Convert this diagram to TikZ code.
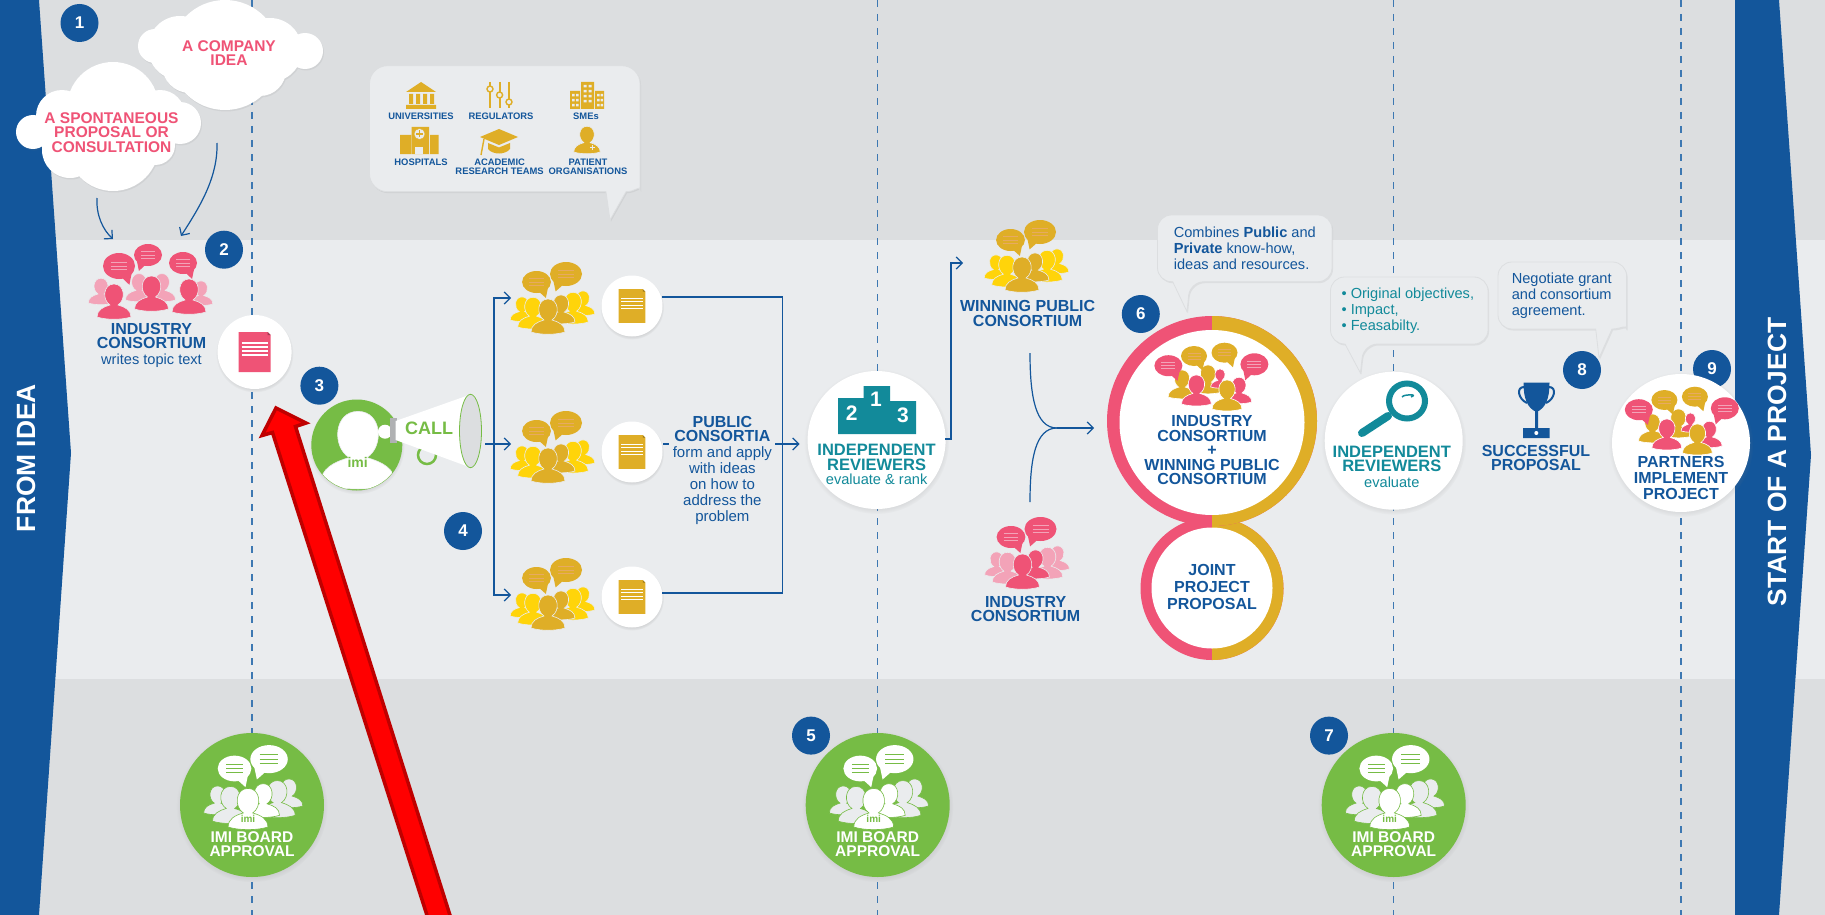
\documentclass[tikz,border=0pt]{standalone}
\usepackage{fontspec}
\setmainfont{Liberation Sans}
\usetikzlibrary{positioning,arrows.meta,shadows}
\definecolor{imiblue}{HTML}{13569B}
\definecolor{imipink}{HTML}{EF5376}
\definecolor{imipale}{HTML}{F3A3B8}
\definecolor{imigold}{HTML}{DFAE27}
\definecolor{imiyellow}{HTML}{FFD40A}
\definecolor{imiteal}{HTML}{128A9A}
\definecolor{imigreen}{HTML}{76BC45}
\definecolor{panel}{HTML}{EAECEE}
\definecolor{bandgrey}{HTML}{DCDEE0}
\definecolor{lanedash}{HTML}{3D78B2}
\colorlet{gapcol}{panel}

\newcommand{\person}[4]{\filldraw[fill=#4,draw=gapcol,line width=.6pt,shift={(#1,#2)},scale=#3]
    (-17,0) .. controls (-17,-7) and (-11,-10) .. (-4,-12) .. controls (-12,-17) and (-11,-33) .. (0,-33)
    .. controls (11,-33) and (12,-17) .. (4,-12) .. controls (11,-10) and (17,-7) .. (17,0)
    .. controls (8,3) and (-8,3) .. (-17,0) -- cycle;}
\newcommand{\bubble}[7]{\begin{scope}[shift={(#1,#2)},xscale=#3,yscale=#4]
    \fill[#6] (0,0) circle[radius=1];
    \fill[#6] (#5*.1,.8) -- (#5*.65,1.45) -- (#5*.8,.5) -- cycle;
    \draw[#7,line width=.9pt] (-.5,-.3) -- (.5,-.3) (-.5,0) -- (.5,0) (-.5,.3) -- (.5,.3);
    \end{scope}}
\newcommand{\crowd}[8]{\begin{scope}[shift={(#1,#2)},scale=#3]
    \colorlet{gapcol}{#8}
    \person{-26}{-12}{.7}{#5}
    \person{35}{-18}{.7}{#5}
    \person{25}{-10}{.9}{#5}
    \person{-15}{-5}{.9}{#5}
    \person{13}{-10}{.82}{#4}
    \person{0}{0}{1}{#4}
    \bubble{-11.5}{-50}{14.4}{11}{1}{#6}{#7}
    \bubble{18}{-58}{16}{12}{-1}{#6}{#7}
    \end{scope}}
\newcommand{\mixcrowd}[3]{\begin{scope}[shift={(#1,#2)}]
    \colorlet{gapcol}{#3}
    \person{-30}{-7}{.82}{imigold}
    \person{-4}{-12}{.82}{imigold}
    \person{8}{-17}{.55}{imipink}
    \person{27}{-2}{.75}{imipink}
    \person{-15.6}{0}{.88}{imipink}
    \person{15}{5}{.88}{imigold}
    \bubble{-43.6}{-38.3}{14}{10.5}{1}{imipink}{imipale}
    \bubble{-18}{-48}{13}{10}{1}{imigold}{imipale!40!imigold}
    \bubble{12.5}{-51.3}{13}{10}{1}{imigold}{imipale!40!imigold}
    \bubble{42.4}{-39.7}{14}{11}{-1}{imipink}{imipale}
    \end{scope}}
\newcommand{\docicon}[4]{\begin{scope}[shift={(#1,#2)},scale=#3]
    \fill[#4] (-16,-20) -- (13,-20) -- (16,-17) -- (16,20) -- (-16,20) -- cycle;
    \fill[#4!70!black] (13,-20) -- (16,-17) -- (13,-17) -- cycle;
    \draw[white,line width=1.1pt] (-13,-9) -- (13,-9) (-13,-5) -- (13,-5) (-13,-1) -- (13,-1) (-13,3) -- (13,3);
    \end{scope}}
\newcommand{\halfring}[3]{\fill[imipink] (#1,#2) circle[radius=#3];
    \begin{scope}
    \clip (#1,0) rectangle (1825,915);
    \fill[imigold] (#1,#2) circle[radius=#3];
    \end{scope}}
\newcommand{\board}[2]{\begin{scope}[shift={(#2,805)}]
    \node[boardcircle] (#1) at (0,0) {};
    \crowd{-4}{22}{1.17}{white}{panel}{white}{imigreen}{imigreen}
    \node[imitag] (#1tag) at (-4,14) {imi};
    \node[boardcaps] (#1text) at (0,39) {IMI BOARD\\APPROVAL};
    \end{scope}}

\begin{document}
\begin{tikzpicture}
    [x=1pt,y=-1pt,
    flow/.style={draw=imiblue,line width=1.2pt,-{Straight Barb[length=6pt,width=12pt]}},
    link/.style={draw=imiblue,line width=1.2pt},
    lane/.style={draw=lanedash,line width=1.4pt,dash pattern=on 7pt off 7pt},
    softshadow/.style={circular drop shadow={shadow xshift=0pt,shadow yshift=-1.5pt,shadow scale=1.05,opacity=.3}},
    whitecircle/.style={circle,fill=white,inner sep=0pt,softshadow},
    boardcircle/.style={circle,fill=imigreen,minimum size=144pt,inner sep=0pt,softshadow},
    badge/.style={circle,fill=imiblue,text=white,minimum size=38pt,inner sep=0pt,font=\fontsize{17}{17}\selectfont\bfseries},
    capsblue/.style={font=\fontsize{16}{14.5}\selectfont\bfseries,text=imiblue,align=center,inner sep=0pt},
    capsteal/.style={font=\fontsize{16.5}{14.5}\selectfont\bfseries,text=imiteal,align=center,inner sep=0pt},
    capspink/.style={font=\fontsize{15.5}{14.6}\selectfont\bfseries,text=imipink,align=center,inner sep=0pt},
    boardcaps/.style={font=\fontsize{15.5}{14}\selectfont\bfseries,text=white,align=center,inner sep=0pt},
    plainblue/.style={font=\fontsize{14.6}{16}\selectfont,text=imiblue,align=left,inner sep=0pt},
    plainteal/.style={font=\fontsize{14.6}{16}\selectfont,text=imiteal,align=left,inner sep=0pt},
    iconcaps/.style={font=\fontsize{9.4}{9}\selectfont\bfseries,text=imiblue,align=center,inner sep=0pt},
    sidecaps/.style={font=\fontsize{26.4}{26}\selectfont\bfseries,text=white,inner sep=0pt,rotate=90},
    imitag/.style={font=\fontsize{10}{10}\selectfont\bfseries,text=imigreen,inner sep=0pt},
    podium/.style={font=\fontsize{21}{21}\selectfont\bfseries,text=white,inner sep=0pt},
    cloudshape/.style={fill=white,drop shadow={opacity=.12,shadow xshift=1pt,shadow yshift=-1.5pt}},
    callbox/.style={fill=panel,draw=bandgrey,line width=.8pt,drop shadow={opacity=.12,shadow xshift=1pt,shadow yshift=-1.5pt}},
    icon/.style={fill=imigold}]
    \useasboundingbox (0,0) rectangle (1825,915);
    \clip (0,0) rectangle (1825,915);

    \fill[bandgrey] (0,0) rectangle (1825,915);
    \fill[panel] (0,240) rectangle (1825,679);
    \fill[imiblue] (0,0) -- (39,0) -- (71,453) -- (39,915) -- (0,915) -- cycle;
    \fill[imiblue] (1735,0) -- (1779,0) -- (1811,455) -- (1779,915) -- (1735,915) -- cycle;
    \node[sidecaps] (fromidea) at (26,458) {FROM IDEA};
    \node[sidecaps] (startproject) at (1777,462) {START OF A PROJECT};

    \coordinate (laneA) at (252,0);
    \coordinate (laneB) at (877.5,0);
    \coordinate (laneC) at (1393.7,0);
    \coordinate (laneD) at (1681,0);
    \draw[lane] (laneA) -- ++(0,915);
    \draw[lane] (laneB) -- ++(0,915);
    \draw[lane] (laneC) -- ++(0,915);
    \draw[lane] (laneD) -- ++(0,915);

    \path[cloudshape] (225,55) circle[radius=55] (180,48) circle[radius=32] (270,50) circle[radius=32]
      (190,65) circle[radius=28] (260,70) circle[radius=26] (155,46) circle[radius=17] (305,51) circle[radius=18];
    \path[cloudshape] (113,108) circle[radius=46] (113,145) circle[radius=46] (33,132) circle[radius=17]
      (180,123) circle[radius=21] (62,116) circle[radius=26] (70,150) circle[radius=28]
      (155,145) circle[radius=20] (160,115) circle[radius=25];
    \node[capspink] (companyidea) at (229,53) {A COMPANY\\IDEA};
    \node[capspink] (spontaneous) at (111.5,132.6) {A SPONTANEOUS\\PROPOSAL OR\\CONSULTATION};
    \node[badge] (stepone) at (79.5,23) {1};

    \path[callbox] (606,191.7) [rounded corners=18pt] -- (369.5,191.7) -- (369.5,65.7) -- (640,65.7) -- (640,172) [sharp corners] .. controls (640,185) and (635,191.7) .. (626,191.7) -- (610,220) -- cycle;
    \fill[icon] (406,92) -- (421,82) -- (436,92) -- cycle (409,94) rectangle (413,104) (416,94) rectangle (420,104)
      (423,94) rectangle (427,104) (430,94) rectangle (434,104) (406,105) rectangle (436,109);
    \node[iconcaps] (universities) at (421,116) {UNIVERSITIES};
    \draw[imigold,line width=1.8pt] (490,82) -- (490,108) (499.6,82) -- (499.6,108) (509,82) -- (509,108);
    \filldraw[fill=panel,draw=imigold,line width=1.4pt] (490,89) circle[radius=3] (499.6,95) circle[radius=3] (509,102) circle[radius=3];
    \node[iconcaps] (regulators) at (501,116) {REGULATORS};
    \fill[icon] (581,82) rectangle (594,109) (570,91) rectangle (580,109) (595,91) rectangle (604,109);
    \foreach \rowy in {85,90,95,100}
      \fill[panel] (583.5,\rowy) rectangle +(3,2.5) (588.5,\rowy) rectangle +(3,2.5);
    \foreach \rowy in {94,99,104}
      \fill[panel] (572,\rowy) rectangle +(2.5,2.5) (576,\rowy) rectangle +(2.5,2.5) (597,\rowy) rectangle +(2.5,2.5) (600.5,\rowy) rectangle +(2.5,2.5);
    \node[iconcaps] (smes) at (586,116) {SMEs};
    \fill[icon] (411.6,127) rectangle (429,154) (400,135) rectangle (411,154) (430,135) rectangle (438.5,154);
    \fill[panel] (415,147) rectangle (423,154);
    \filldraw[fill=panel,draw=imigold] (419.5,134) circle[radius=5.5];
    \draw[imigold,line width=1.4pt] (416,134) -- (423,134) (419.5,130.5) -- (419.5,137.5);
    \node[iconcaps] (hospitals) at (421,162) {HOSPITALS};
    \fill[icon] (480,137) -- (499,129) -- (518,137) -- (499,145) -- cycle;
    \fill[icon] (488,143) -- (499,147.5) -- (510,143) -- (510,149) .. controls (505,155) and (493,155) .. (488,149) -- cycle;
    \draw[imigold,line width=1.4pt] (484,139) -- (481,155);
    \node[iconcaps] (academic) at (499.6,167) {ACADEMIC\\RESEARCH TEAMS};
    \colorlet{gapcol}{panel}
    \person{587}{152}{.78}{imigold}
    \draw[panel,line width=1pt] (590,147.5) -- (595,147.5) (592.5,145) -- (592.5,150);
    \node[iconcaps] (patient) at (588,166.5) {PATIENT\\ORGANISATIONS};

    \coordinate (ideastart) at (217,143);
    \coordinate (proposalstart) at (97,198);
    \coordinate (consortleft) at (113,239);
    \coordinate (consortright) at (181,236);
    \draw[flow] (proposalstart) .. controls +(-1,17) and +(-10,-9) .. (consortleft);
    \draw[flow] (ideastart) .. controls +(1,35) and +(18,-28) .. (consortright);

    \person{101}{303}{.75}{imipale}
    \person{201}{304}{.7}{imipale}
    \person{139}{300}{.8}{imipale}
    \person{162}{300}{.8}{imipale}
    \person{114}{317}{1}{imipink}
    \person{151.5}{309}{1}{imipink}
    \person{189}{312}{1}{imipink}
    \bubble{119}{266}{16}{13}{1}{imipink}{imipale}
    \bubble{148}{255}{14}{11}{-1}{imipink}{imipale}
    \bubble{183}{263}{14}{11}{1}{imipink}{imipale}
    \node[badge] (steptwo) at (224,249.7) {2};
    \node[capsblue] (industrytop) at (151.5,336) {INDUSTRY\\CONSORTIUM};
    \node[plainblue,below=5pt of industrytop] (writes) {writes topic text};
    \node[whitecircle,minimum size=74pt] (topicdoc) at (254.6,352) {};
    \docicon{254.6}{352}{1}{imipink}

    \node[whitecircle,fill=imigreen,minimum size=91pt] (callcircle) at (356.8,445) {};
    \begin{scope}
      \clip (356.8,445) circle[radius=45];
      \person{358}{484}{2.2}{white}
    \end{scope}
    \node[imitag,font=\fontsize{14}{14}\selectfont\bfseries] (callimi) at (357.7,462.7) {imi};
    \draw[imigreen,line width=2.5pt] (427,455) circle[radius=9];
    \fill[white] (385,431.7) circle[radius=7];
    \fill[bandgrey!80!black] (390,418) rectangle (397,443);
    \fill[white] (395.6,421) -- (470.5,394.5) -- (470.5,467.5) -- (395.6,440) -- cycle;
    \filldraw[fill=bandgrey,draw=imigreen,line width=.8pt] (470.5,431) ellipse[x radius=11,y radius=36.7];
    \node[font=\fontsize{18}{18}\selectfont\bfseries,text=imigreen,inner sep=0pt] (callword) at (429,428) {CALL};
    \node[badge] (stepthree) at (319.4,385.7) {3};
    \node[badge] (stepfour) at (463,531) {4};

    \coordinate (calltip) at (485,444);
    \coordinate (trunk) at (494,444);
    \coordinate (crowdA) at (511,298);
    \coordinate (crowdB) at (511,444);
    \coordinate (crowdC) at (511,595);
    \draw[flow] (calltip) -- (crowdB);
    \draw[flow] (trunk) |- (crowdA);
    \draw[flow] (trunk) |- (crowdC);

    \crowd{548}{332}{1}{imigold}{imiyellow}{imigold}{imipale!40!imigold}{panel}
    \crowd{548}{481}{1}{imigold}{imiyellow}{imigold}{imipale!40!imigold}{panel}
    \crowd{548}{628}{1}{imigold}{imiyellow}{imigold}{imipale!40!imigold}{panel}
    \node[whitecircle,minimum size=61pt] (docA) at (632,306) {};
    \node[whitecircle,minimum size=61pt] (docB) at (632,452) {};
    \node[whitecircle,minimum size=61pt] (docC) at (632,597) {};
    \docicon{632}{306}{.84}{imigold}
    \docicon{632}{452}{.84}{imigold}
    \docicon{632}{597}{.84}{imigold}

    \coordinate (outA) at (662,297);
    \coordinate (outB) at (663,444);
    \coordinate (outC) at (662,593);
    \coordinate (spine) at (782.5,444);
    \coordinate (inreview) at (799.5,444);
    \draw[link] (outA) -| (spine);
    \draw[link] (outC) -| (spine);
    \draw[flow] (outB) -- (inreview);
    \node[capsblue,fill=panel,inner xsep=5pt,inner ysep=4pt] (publictitle) at (722.4,429) {PUBLIC\\CONSORTIA};
    \node[plainblue,align=center,font=\fontsize{15}{16}\selectfont,fill=panel,inner xsep=5pt,below=0pt of publictitle] (publictext) {form and apply\\with ideas\\on how to\\address the\\problem};

    \node[whitecircle,minimum size=138pt] (reviewA) at (876.6,440) {};
    \fill[imiteal] (838,434) -- (838,398) -- (863.5,398) -- (863.5,386) -- (890,386) -- (890,401) -- (916,401) -- (916,434) -- cycle;
    \node[podium] (second) at (851.6,412.7) {2};
    \node[podium] (first) at (876,399) {1};
    \node[podium] (third) at (903,415.7) {3};
    \node[capsteal] (reviewAtitle) at (876.6,457.5) {INDEPENDENT\\REVIEWERS};
    \node[plainteal,below=3pt of reviewAtitle] (reviewAtext) {evaluate \& rank};

    \coordinate (reviewout) at (945,439);
    \coordinate (towinner) at (963,263);
    \draw[flow] (reviewout) -- ++(6,0) |- (towinner);

    \crowd{1022}{290}{1}{imigold}{imiyellow}{imigold}{imipale!40!imigold}{panel}
    \node[capsblue] (winning) at (1027.6,313.5) {WINNING PUBLIC\\CONSORTIUM};
    \crowd{1022.5}{587}{1}{imipink}{imipale}{imipink}{imipale}{panel}
    \node[capsblue] (industrylow) at (1025.6,609) {INDUSTRY\\CONSORTIUM};

    \coordinate (mergetop) at (1030,353);
    \coordinate (mergelow) at (1030,502);
    \coordinate (mergemid) at (1057,428);
    \coordinate (toproposal) at (1094,428);
    \draw[link] (mergetop) .. controls +(0,42) and +(-22,0) .. (mergemid);
    \draw[link] (mergelow) .. controls +(0,-42) and +(-22,0) .. (mergemid);
    \draw[flow] (mergemid) -- (toproposal);

    \halfring{1212}{588.5}{71.5}
    \halfring{1212}{421}{105}
    \node[circle,fill=white,minimum size=121pt,inner sep=0pt] (jointcircle) at (1212,588) {};
    \node[circle,fill=white,minimum size=185pt,inner sep=0pt] (mergecircle) at (1212,422.5) {};
    \mixcrowd{1212}{404}{white}
    \node[capsblue] (mergetext) at (1212,450) {INDUSTRY\\CONSORTIUM\\+\\WINNING PUBLIC\\CONSORTIUM};
    \node[capsblue,font=\fontsize{16}{17}\selectfont\bfseries] (jointtext) at (1212,587) {JOINT\\PROJECT\\PROPOSAL};
    \node[badge] (stepsix) at (1140.8,314) {6};

    \path[callbox] (1172.7,281.7) [rounded corners=14pt] -- (1157.5,281.7) -- (1157.5,215) -- (1332,215) -- (1332,281.7) -- (1190,281.7) [sharp corners] -- (1187,311.7) -- cycle;
    \node[plainblue,anchor=west] (combines) at (1173.6,248.5) {Combines \textbf{Public} and\\\textbf{Private} know-how,\\ideas and resources.};
    \path[callbox] (1345,344) [rounded corners=14pt] -- (1330.5,344) -- (1330.5,277) -- (1488,277) -- (1488,344) -- (1363.7,344) [sharp corners] -- (1360.4,373) -- cycle;
    \node[plainteal,anchor=west] (criteria) at (1341.4,311) {• Original objectives,\\• Impact,\\• Feasabilty.};
    \path[callbox] (1595.7,329) [rounded corners=14pt] -- (1498,329) -- (1498,262) -- (1626.6,262) -- (1626.6,315) [sharp corners] .. controls (1626.6,324) and (1621,329) .. (1612,329) -- (1599,358) -- cycle;
    \node[plainblue,anchor=west] (negotiate) at (1511.6,296) {Negotiate grant\\and consortium\\agreement.};

    \node[whitecircle,minimum size=138pt] (reviewB) at (1393.7,440.7) {};
    \draw[imiteal,line width=6pt] (1407,401) ellipse[x radius=18,y radius=17.5];
    \draw[imiteal,line width=8pt,line cap=round] (1388,416) -- (1362,433);
    \draw[imiteal,line width=1.5pt] (1402,397) .. controls +(2,-3) and +(8,-3) .. (1411,397);
    \node[capsteal] (reviewBtitle) at (1391.8,459) {INDEPENDENT\\REVIEWERS};
    \node[plainteal,below=5pt of reviewBtitle] (reviewBtext) {evaluate};

    \fill[imiblue] (1523.5,382.7) -- (1549.5,382.7) .. controls (1549.5,398) and (1546,408) .. (1536.5,412) .. controls (1527,408) and (1523.5,398) .. (1523.5,382.7) -- cycle;
    \draw[imiblue,line width=2pt] (1524,387) .. controls (1516,387) and (1518,399) .. (1527,403) (1549,387) .. controls (1557,387) and (1555,399) .. (1546,403);
    \fill[imiblue] (1535,410) rectangle (1538,429) (1523,428) rectangle (1549.6,438);
    \fill[white] (1536.3,433) circle[radius=2];
    \node[capsblue] (successful) at (1536,458) {SUCCESSFUL\\PROPOSAL};
    \node[badge] (stepeight) at (1582,370) {8};

    \node[badge] (stepnine) at (1712,369) {9};
    \node[whitecircle,minimum size=138pt] (partnerscircle) at (1681,443) {};
    \mixcrowd{1682.4}{448}{white}
    \node[capsblue,font=\fontsize{16}{16}\selectfont\bfseries] (partners) at (1681,478) {PARTNERS\\IMPLEMENT\\PROJECT};

    \board{boardA}{252}
    \board{boardB}{877.7}
    \board{boardC}{1393.7}
    \node[badge] (stepfive) at (811,735.6) {5};
    \node[badge] (stepseven) at (1329,735.6) {7};

    \filldraw[fill=red,draw=red!75!black,line width=3.5pt] (276,408) -- (262,435.5) -- (272.5,432.5) -- (428.5,920) -- (451.5,920) -- (295.5,426.5) -- (306,423) -- cycle;
\end{tikzpicture}
\end{document}
